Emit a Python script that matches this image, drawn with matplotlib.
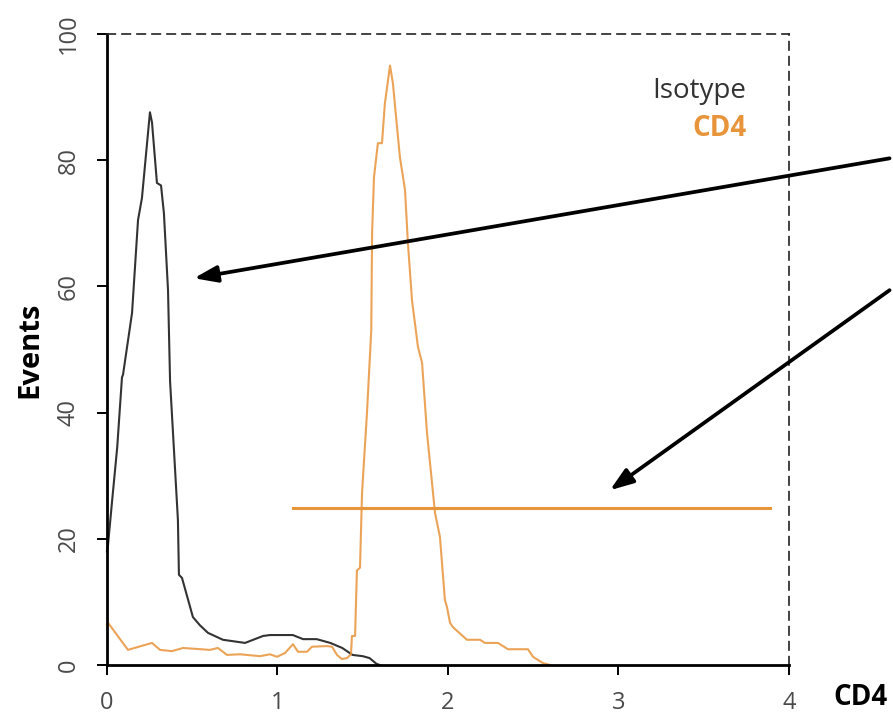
import matplotlib.pyplot as plt

plt.rcParams['font.family'] = ['Open Sans', 'DejaVu Sans']

# Isotype histogram (black)
iso_x = [0.0, 0.006, 0.03, 0.06, 0.088, 0.094, 0.147, 0.182, 0.205, 0.252, 0.264,
         0.293, 0.317, 0.334, 0.358, 0.37, 0.416, 0.422, 0.44, 0.504, 0.545, 0.592,
         0.68, 0.81, 0.915, 0.956, 1.09, 1.15, 1.23, 1.31, 1.38, 1.44, 1.50, 1.54, 1.58, 1.60]
iso_y = [18.0, 19.0, 26.0, 34.5, 45.6, 46.0, 55.8, 70.5, 74.0, 87.6, 86.0,
         76.4, 76.0, 71.6, 59.4, 45.0, 23.0, 14.3, 13.8, 7.6, 6.3, 5.1,
         4.0, 3.5, 4.6, 4.75, 4.75, 4.1, 4.1, 3.5, 2.7, 1.6, 1.4, 1.1, 0.2, 0.0]

# CD4 histogram (orange)
cd4_x = [0.0, 0.006, 0.123, 0.264, 0.311, 0.381, 0.446, 0.604, 0.651, 0.704, 0.78,
         0.897, 0.956, 0.997, 1.044, 1.091, 1.12, 1.173, 1.202, 1.29, 1.32, 1.349,
         1.378, 1.408, 1.431, 1.437, 1.455, 1.466, 1.484, 1.496, 1.525, 1.55, 1.555,
         1.566, 1.589, 1.613, 1.63, 1.66, 1.677, 1.701, 1.718, 1.748, 1.765, 1.789,
         1.824, 1.848, 1.877, 1.924, 1.953, 1.982, 1.994, 2.012, 2.029, 2.111, 2.188,
         2.217, 2.293, 2.352, 2.469, 2.499, 2.557, 2.6]
cd4_y = [6.5, 6.7, 2.4, 3.5, 2.4, 2.2, 2.7, 2.4, 2.7, 1.6, 1.7,
         1.4, 1.7, 1.3, 1.9, 3.3, 2.1, 2.1, 2.9, 3.0, 2.9, 1.6,
         0.95, 1.1, 1.7, 4.6, 4.6, 15.0, 15.4, 27.3, 40.0, 53.0, 68.5,
         77.3, 82.7, 82.7, 89.0, 95.0, 92.2, 85.3, 80.5, 75.3, 66.9, 57.8,
         50.4, 47.9, 36.8, 24.1, 20.3, 10.3, 9.2, 6.7, 6.0, 4.0, 4.0,
         3.5, 3.5, 2.5, 2.5, 1.3, 0.3, 0.0]

# positive gate
gate_x = [1.09, 3.89]
gate_y = [24.9, 24.9]

# arrows: (tail, head)
arrows = [((4.59, 80.3), (0.51, 61.3)),
          ((4.59, 59.4), (2.95, 27.7))]

x_ticks = [0, 1, 2, 3, 4]
y_ticks = [0, 20, 40, 60, 80, 100]

orange = '#E8943A'
dark = '#333333'

fig = plt.figure(figsize=(8.93, 7.18), dpi=100)
ax = fig.add_axes([0.1198, 0.0738, 0.7637, 0.8788])

ax.plot(iso_x, iso_y, color=dark, lw=1.5, clip_on=False)
ax.plot(cd4_x, cd4_y, color=orange, lw=1.5, alpha=0.85, clip_on=False)
ax.plot(gate_x, gate_y, color=orange, lw=2.2)

for tail, head in arrows:
    ax.annotate('', xy=head, xytext=tail, xycoords='data', textcoords='data',
                annotation_clip=False,
                arrowprops=dict(arrowstyle='-|>,head_length=1.4,head_width=0.5',
                                color='black', lw=2.7, shrinkA=0, shrinkB=0))

ax.set_xlim(0, 4)
ax.set_ylim(0, 100)
ax.set_xticks(x_ticks)
ax.set_yticks(y_ticks)
ax.set_xticklabels([str(v) for v in x_ticks], fontsize=17, color='#4a4a4a')
ax.set_yticklabels([str(v) for v in y_ticks], fontsize=17, color='#4a4a4a',
                   rotation=90, va='center')
ax.tick_params(axis='both', direction='out', length=7, width=1.4, color='black')
ax.tick_params(axis='x', pad=12)
ax.tick_params(axis='y', pad=12)

for side in ['left', 'bottom']:
    ax.spines[side].set_linewidth(2)
    ax.spines[side].set_color('black')
for side in ['top', 'right']:
    ax.spines[side].set_linestyle((0, (5, 4)))
    ax.spines[side].set_linewidth(1.2)
    ax.spines[side].set_color('#222222')

ax.set_ylabel('Events', fontsize=21, fontweight='bold', labelpad=9)
fig.text(0.963, 0.028, 'CD4', fontsize=20, fontweight='bold', ha='center', va='center')

ax.text(0.937, 0.91, 'Isotype', transform=ax.transAxes, fontsize=20, color=dark,
        ha='right', va='center')
ax.text(0.937, 0.85, 'CD4', transform=ax.transAxes, fontsize=20, color=orange,
        fontweight='bold', ha='right', va='center')

fig.savefig('out.png', dpi=100)
